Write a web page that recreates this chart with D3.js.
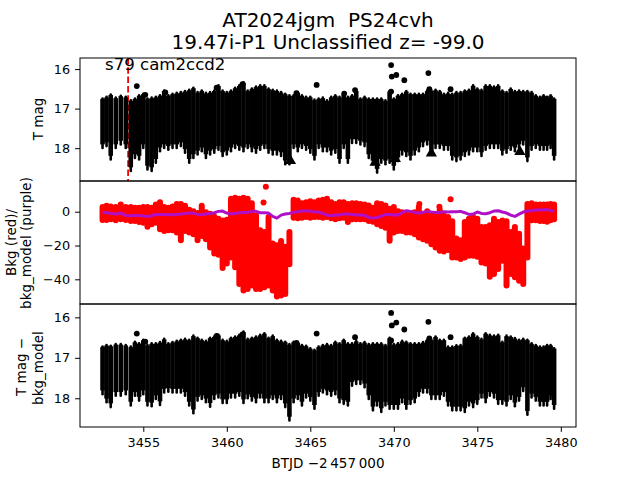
<!DOCTYPE html>
<html><head><meta charset="utf-8">
<script src="https://d3js.org/d3.v7.min.js"></script>
<style>html,body{margin:0;padding:0;background:#fff}text{font-family:"DejaVu Sans";fill:#000;white-space:pre}</style>
</head><body><svg id="c" width="640" height="480"></svg>
<script>
const days=[3452.56,3452.8,3453.05,3453.35,3453.65,3453.95,3454.25,3454.5,3454.75,3455,3455.25,3455.5,3455.75,3456,3456.25,3456.5,3456.75,3457,3457.25,3457.5,3457.75,3458,3458.25,3458.5,3458.75,3459,3459.25,3459.5,3459.75,3460,3460.25,3460.5,3460.75,3461,3461.25,3461.5,3461.75,3462,3462.25,3462.5,3462.75,3463,3463.25,3463.5,3463.75,3464,3464.25,3464.5,3464.75,3465,3465.25,3465.5,3465.75,3466,3466.25,3466.5,3466.75,3467,3467.25,3467.5,3467.75,3468,3468.25,3468.5,3468.75,3469,3469.25,3469.5,3469.75,3470,3470.25,3470.5,3470.75,3471,3471.25,3471.5,3471.75,3472,3472.25,3472.5,3472.75,3473,3473.25,3473.5,3473.75,3474,3474.25,3474.5,3474.75,3475,3475.25,3475.5,3475.75,3476,3476.25,3476.5,3476.75,3477,3477.25,3477.5,3477.75,3478,3478.25,3478.5,3478.75,3478.97,3479.18,3479.39,3479.6];
const magTop=[16.73,16.69,16.63,16.71,16.66,16.69,16.78,16.73,16.65,16.61,16.73,16.71,16.69,16.65,16.53,16.65,16.61,16.59,16.57,16.54,16.51,16.46,16.57,16.53,16.59,16.57,16.53,16.40,16.53,16.57,16.53,16.46,16.40,16.32,16.53,16.48,16.43,16.40,16.40,16.48,16.51,16.53,16.57,16.61,16.65,16.65,16.57,16.65,16.69,16.69,16.76,16.73,16.71,16.78,16.69,16.65,16.69,
16.61,16.69,16.65,16.53,16.73,16.69,16.73,16.73,16.73,16.73,16.78,16.54,16.73,16.65,16.61,16.54,16.61,16.61,16.61,16.61,16.53,16.53,16.51,16.54,16.61,16.59,16.61,16.57,16.57,16.53,16.51,16.40,16.48,16.51,16.40,16.40,16.43,16.40,16.53,16.57,16.48,16.54,16.53,16.54,16.54,16.57,16.65,16.69,16.65,16.69,16.65,16.73];
const magBot=[18.03,17.98,18.32,18.03,17.94,18.03,18.61,18.28,18.32,18.03,18.57,18.61,18.40,18.11,18.03,18.07,18.03,18.03,17.98,18.15,18.40,18.28,18.19,18.11,18.28,18.19,18.15,18.07,18.23,18.19,18.11,18.03,18.07,18.11,18.03,18.11,18.15,18.07,18.03,18.15,18.19,18.19,18.23,18.44,18.44,18.03,18.11,18.03,18.07,18.15,18.32,18.03,18.11,18.11,18.19,18.15,18.40,
18.03,18.40,17.90,17.90,17.94,17.98,18.28,18.44,18.65,18.40,18.44,18.40,18.57,18.36,18.19,18.23,18.32,18.19,18.11,17.98,17.94,18.19,18.03,18.03,18.07,18.07,18.32,18.36,18.32,18.23,18.19,18.11,18.11,18.23,18.07,18.03,18.03,18.03,18.19,18.15,18.07,18.11,18.03,17.94,18.36,18.07,18.03,18.07,18.07,18.07,18.03,18.32];
const magDotDays=[3454.61,3455.12,3456.32,3459.39,3460.94,3464.17,3465.38,3467.03,3467.68,3469.84,3469.88,3470.15,3470.63,3472.07,3472.13,3473.40,3469.84];
const magDotVals=[16.43,16.65,16.59,16.47,16.38,16.61,16.40,16.62,16.53,15.90,16.19,16.15,16.28,16.10,16.51,16.51,16.57];
const limitDays=[3463.81,3468.88,3470.09,3472.25,3477.55];
const limitVals=[18.32,18.36,18.27,18.13,18.09];
const markerDay=3454.09;
const bkgTop=[4.5,5.3,4.9,4.5,6.0,4.5,4.5,4.1,4.1,4.5,4.5,4.1,6.0,7.4,4.5,4.1,4.9,6.4,6.4,5.3,2.9,2.1,1.0,5.3,1.5,0.6,-1.0,-2.4,-3.4,-3.0,9.4,10.0,9.4,10.0,9.4,6.8,-0.4,-9.2,-10.2,-1.4,-17.1,-18.1,-15.5,-19.0,-10.2,8.8,8.4,6.8,7.4,8.0,7.4,8.4,8.8,9.4,7.4,6.4,7.4,
7.4,6.4,6.8,6.8,6.4,6.0,5.5,4.1,6.8,6.4,5.5,3.5,4.5,2.1,1.5,1.0,1.0,1.5,4.5,0.6,2.1,0.2,-0.4,2.9,-0.4,-1.4,-3.8,-14.1,-15.1,-4.3,-2.4,-1.4,-2.4,-7.3,-7.3,-6.3,-2.4,-4.3,-3.4,-3.8,-10.2,-7.3,-11.2,-20.0,6.4,6.8,6.0,6.0,6.0,6.0,6.4,6.0];
const bkgBot=[-6.7,-6.7,-6.3,-6.9,-6.3,-6.7,-7.3,-7.3,-7.9,-8.3,-10.6,-9.2,-8.3,-12.2,-13.2,-12.8,-12.8,-14.1,-18.6,-13.2,-14.1,-15.1,-18.6,-16.1,-18.1,-23.0,-26.5,-27.3,-35.1,-32.4,-28.8,-34.7,-44.5,-48.4,-47.5,-45.5,-47.5,-47.5,-46.5,-45.5,-48.4,-52.0,-51.4,-50.4,-32.8,-5.3,-5.7,-5.3,-4.9,-5.3,-4.9,-4.9,-5.3,-4.9,-5.7,-6.3,-5.7,
-5.3,-7.9,-6.3,-6.3,-6.3,-6.3,-7.3,-7.7,-9.2,-10.2,-11.2,-19.0,-14.1,-13.2,-13.2,-14.1,-14.1,-15.1,-17.1,-18.1,-19.0,-21.0,-23.0,-24.9,-25.3,-24.5,-28.8,-28.8,-29.8,-28.8,-27.9,-27.9,-28.4,-31.8,-32.4,-40.2,-38.6,-35.7,-30.8,-45.5,-38.6,-40.6,-42.6,-44.5,-28.8,-6.9,-6.9,-7.3,-7.3,-7.7,-6.9,-6.3];
const bkgDotDays=[3462.34,3462.2,3473.4,3471.53,3472.73];
const bkgDotVals=[14.7,5.5,7.4,4.5,2.9];
const bkgModel=[-0.8,-0.4,-1.0,-1.4,-0.8,-2.2,-2.4,-2.2,-2.2,-2.6,-2.8,-2.4,-1.6,-1.6,-1.6,-1.8,-1.8,-1.6,-1.4,-1.0,-0.8,-0.8,-1.6,-1.8,-1.4,-1.0,-0.6,0.2,0.4,-0.8,-1.4,-1.0,-0.6,-0.4,-0.4,0.2,0.2,-0.6,-0.6,-0.8,-2.8,-3.8,-2.0,-1.4,-1.0,-0.4,0.0,0.4,0.4,0.4,-0.2,-0.2,-1.0,-2.0,-2.4,-2.0,-2.0,
-1.4,-1.4,-1.6,-2.0,-1.8,-2.2,-3.4,-3.8,-3.4,-2.6,-1.6,-1.6,-2.0,-2.0,-0.4,0.6,0.2,-0.4,-0.8,-0.4,0.2,-0.2,-0.4,-0.4,0.0,-0.2,0.0,0.0,0.2,-0.6,-1.6,-1.4,-0.2,-1.0,-1.2,-0.6,0.4,0.6,-0.2,-0.8,-2.0,-2.8,-1.4,-0.2,0.4,0.6,1.0,1.0,1.1,1.1,0.8,0.0];
const subTop=[16.71,16.67,16.69,16.65,16.65,16.67,16.71,16.59,16.63,16.54,16.67,16.63,16.63,16.60,16.52,16.63,16.60,16.57,16.54,16.52,16.54,16.44,16.49,16.54,16.57,16.49,16.46,16.42,16.54,16.57,16.49,16.46,16.42,16.34,16.52,16.49,16.46,16.42,16.38,16.49,16.44,16.54,16.57,16.59,16.65,16.59,16.60,16.67,16.69,16.75,16.79,16.71,16.67,16.65,16.67,16.59,16.63,
16.54,16.63,16.63,16.57,16.63,16.60,16.65,16.63,16.63,16.63,16.67,16.49,16.65,16.63,16.57,16.59,16.63,16.63,16.63,16.60,16.54,16.54,16.46,16.54,16.54,16.71,16.71,16.68,16.67,16.49,16.46,16.38,16.46,16.52,16.38,16.42,16.44,16.42,16.59,16.44,16.46,16.50,16.54,16.52,16.54,16.63,16.67,16.71,16.71,16.67,16.67,16.75];
const subBot=[17.93,18.13,18.25,17.97,17.97,17.93,18.21,17.97,18.09,17.93,18.21,18.23,18.05,18.20,17.89,17.87,17.89,17.89,17.89,17.97,18.21,18.40,18.09,18.05,18.13,18.24,18.05,18.01,18.15,18.15,18.01,18.01,17.97,18.15,18.03,18.09,18.13,18.01,18.13,18.13,18.05,18.13,18.05,18.25,18.58,18.13,18.05,18.21,18.01,18.09,18.29,17.97,17.89,17.93,17.97,17.93,18.13,
18.17,18.21,17.72,17.68,17.68,17.76,18.05,18.33,18.21,18.37,18.21,18.29,18.29,18.29,18.13,18.29,18.17,18.13,17.97,17.89,17.89,18.05,18.05,18.05,17.97,18.21,18.33,18.33,18.33,18.37,18.21,18.25,18.17,18.01,18.13,17.97,18.01,18.17,18.17,18.21,18.05,18.23,18.09,17.85,18.44,18.01,18.09,18.21,18.21,18.21,18.05,18.29];
const subDotDays=[3454.61,3455.12,3459.39,3460.94,3464.17,3465.38,3467.68,3469.84,3469.88,3470.15,3470.63,3472.07,3472.13,3473.40,3469.84];
const subDotVals=[16.40,16.60,16.46,16.42,16.63,16.40,16.49,15.89,16.20,16.13,16.30,16.11,16.52,16.49,16.57];
const magTicks=[16,17,18], bkgTicks=[0,-20,-40], xTicks=[3455,3460,3465,3470,3475,3480];
const titleLines=["AT2024jgm  PS24cvh","19.47i-P1 Unclassified z= -99.0"];

const svg=d3.select("#c");
const L=80,R=576,P=[[58,181],[181,304],[304,427]];
const x=d3.scaleLinear().domain([3451.21,3480.91]).range([L,R]);
const y1=d3.scaleLinear().domain([15.72,18.83]).range([58,181]);
const y2=d3.scaleLinear().domain([18.17,-54.6]).range([181,304]);
const y3=d3.scaleLinear().domain([15.67,18.71]).range([304,427]);

function dots(g,yy,ds,vs,r,col){g.append("g").attr("fill",col).selectAll("circle").data(ds).enter().append("circle")
  .attr("cx",d=>x(d)).attr("cy",(d,i)=>yy(vs[i])).attr("r",r);}
function bars(g,yy,tops,bots){
  g.append("g").attr("stroke","#000").attr("stroke-width",4.6)
  .selectAll("line").data(days).enter().append("line")
  .attr("x1",d=>x(d)).attr("x2",d=>x(d))
  .attr("y1",(d,i)=>yy(tops[i])+1).attr("y2",(d,i)=>yy(bots[i])-5);
  g.append("g").attr("stroke","#000").attr("stroke-width",2.6).attr("stroke-linecap","round")
  .selectAll("line").data(days).enter().append("line")
  .attr("x1",d=>x(d)).attr("x2",d=>x(d))
  .attr("y1",(d,i)=>yy(tops[i])+0.5).attr("y2",(d,i)=>yy(bots[i])-1.3);
}
// panel 1
const g1=svg.append("g");
g1.append("line").attr("x1",x(markerDay)).attr("x2",x(markerDay)).attr("y1",58).attr("y2",181)
  .attr("stroke","#f00").attr("stroke-width",1.8).attr("stroke-dasharray","6.5,2.8");
bars(g1,y1,magTop,magBot);
dots(g1,y1,magDotDays,magDotVals,2.9,"#000");
g1.selectAll("path.tri").data(limitDays).enter().append("path").attr("class","tri")
  .attr("d",d3.symbol(d3.symbolTriangle,55)).attr("fill","#000")
  .attr("transform",(d,i)=>`translate(${x(d)},${y1(limitVals[i])})`);
// panel 2
const g2=svg.append("g");
g2.append("g").attr("stroke","#f00").attr("stroke-width",6).attr("stroke-linecap","round")
  .selectAll("line").data(days).enter().append("line")
  .attr("x1",d=>x(d)).attr("x2",d=>x(d))
  .attr("y1",(d,i)=>y2(bkgTop[i])+3).attr("y2",(d,i)=>y2(bkgBot[i])-3);
dots(g2,y2,bkgDotDays,bkgDotVals,3,"#f00");
g2.append("path").attr("fill","none").attr("stroke","#b00fc8").attr("stroke-width",3).attr("stroke-linejoin","round")
  .attr("d",d3.line().x(d=>x(d)).y((d,i)=>y2(bkgModel[i]))(days));
// panel 3
const g3=svg.append("g");
bars(g3,y3,subTop,subBot);
dots(g3,y3,subDotDays,subDotVals,2.9,"#000");
// frames + axes
P.forEach(p=>svg.append("rect").attr("x",L).attr("y",p[0]).attr("width",R-L).attr("height",p[1]-p[0]).attr("fill","none").attr("stroke","#000").attr("stroke-width",1));
function ax(a,t){const g=svg.append("g").attr("transform",t).call(a);
  g.select(".domain").remove();g.selectAll("text").style("font-family","DejaVu Sans").style("font-size","12.8px");g.selectAll("line").attr("stroke","#000");return g;}
const left=s=>d3.axisLeft(s).tickSize(4.9).tickPadding(5);
ax(left(y1).tickValues(magTicks).tickFormat(d3.format("d")),`translate(${L},0)`);
ax(left(y2).tickValues(bkgTicks).tickFormat(d=>d<0?"\u2212"+(-d):d),`translate(${L},0)`);
ax(left(y3).tickValues(magTicks).tickFormat(d3.format("d")),`translate(${L},0)`);
ax(d3.axisBottom(x).tickValues(xTicks).tickFormat(d3.format("d")).tickSize(4.9).tickPadding(6),`translate(0,427)`);
// text
function T(s,xp,yp,size,anchor,rot){const t=svg.append("text").text(s).attr("font-size",size).attr("text-anchor",anchor||"middle");
  if(rot)t.attr("transform",`translate(${xp},${yp}) rotate(-90)`);else t.attr("x",xp).attr("y",yp);return t;}
T(titleLines[0],328,27,20);
T(titleLines[1],328,49,20);
T("s79 cam2ccd2",105,70,16.6,"start");
T("T mag",43,119,13.5,"middle",true);
T("Bkg (red)/",15.5,242.5,13.5,"middle",true);
T("bkg_model (purple)",31,243,13.5,"middle",true);
T("T mag \u2212",25.5,367,13.5,"middle",true);
T("bkg_model",43,368,13.5,"middle",true);
T("BTJD \u22122\u2009457\u2009000",328,468,13.5);
</script></body></html>
